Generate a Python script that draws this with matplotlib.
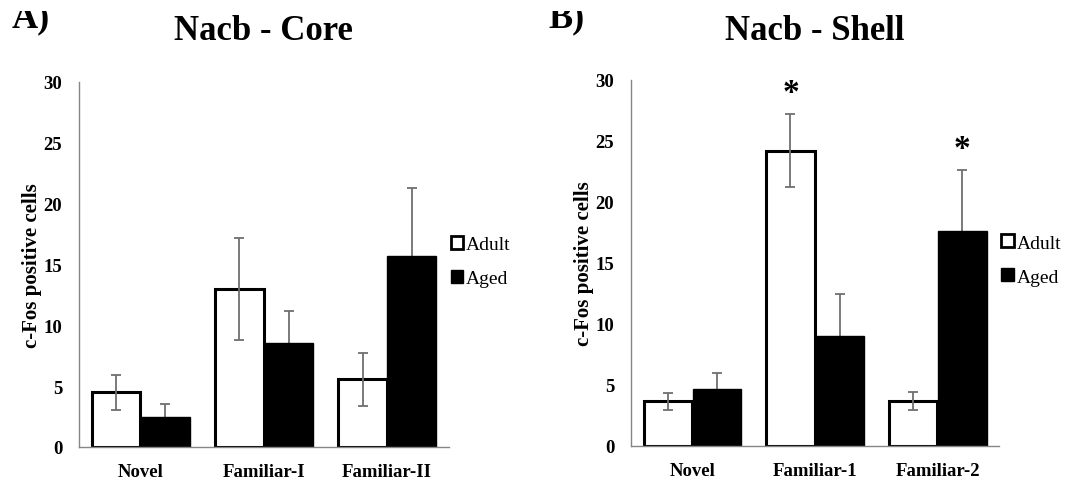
import matplotlib
matplotlib.use("Agg")
import matplotlib.pyplot as plt
import numpy as np
from matplotlib.patches import Patch, Rectangle

plt.rcParams['font.family'] = ['Liberation Serif', 'DejaVu Serif']

groups = ["Adult", "Aged"]

core_labels = ["Novel", "Familiar-I", "Familiar-II"]
core_adult = [4.5, 13.0, 5.55]
core_adult_err = [1.45, 4.2, 2.15]
core_aged = [2.45, 8.55, 15.7]
core_aged_err = [1.1, 2.6, 5.6]

shell_labels = ["Novel", "Familiar-1", "Familiar-2"]
shell_adult = [3.65, 24.2, 3.7]
shell_adult_err = [0.68, 3.0, 0.72]
shell_aged = [4.65, 9.05, 17.6]
shell_aged_err = [1.3, 3.4, 5.0]
# significance marks: (category index, group index)
shell_stars = [(1, 0), (2, 1)]


def draw_panel(ax, title, labels, adult, adult_err, aged, aged_err, stars, title_pad):
    """
    Draws one grouped bar panel in the Excel-like style of the reference.
    """
    x = np.arange(len(labels))
    w = 0.4
    err_kw = dict(fmt='none', ecolor='#6f6f6f', elinewidth=1.3, capsize=3.5, capthick=1.3)
    ax.bar(x - w / 2, adult, w * 0.99, color='white',
           edgecolor='black', linewidth=2.2, zorder=2)
    ax.bar(x + w / 2, aged, w * 0.99, color='black',
           edgecolor='black', linewidth=1.0, zorder=2)
    # adult error bars sit on top of the white bars, aged ones hide behind the black bars
    ax.errorbar(x - w / 2, adult, yerr=adult_err, zorder=3, **err_kw)
    ax.errorbar(x + w / 2, aged, yerr=aged_err, zorder=1, **err_kw)

    for ci, gi in stars:
        top = (adult[ci] + adult_err[ci]) if gi == 0 else (aged[ci] + aged_err[ci])
        xpos = x[ci] - w / 2 if gi == 0 else x[ci] + w / 2
        ax.text(xpos, top + 1.1, "*", ha='center', va='baseline',
                fontsize=24, fontweight='bold')

    ax.set_xlim(-0.5, len(labels) - 0.5)
    ax.set_ylim(0, 30)
    ax.set_yticks(range(0, 31, 5))
    ax.set_xticks(x)
    ax.set_xticklabels(labels)
    ax.tick_params(axis='both', length=0, labelsize=13.5)
    ax.tick_params(axis='y', pad=12)
    ax.tick_params(axis='x', pad=11.5)
    for lbl in ax.get_xticklabels() + ax.get_yticklabels():
        lbl.set_fontweight('bold')
    for side in ['top', 'right']:
        ax.spines[side].set_visible(False)
    for side in ['left', 'bottom']:
        ax.spines[side].set_color('#868686')
        ax.spines[side].set_linewidth(1.0)
    ax.set_ylabel("c-Fos positive cells", fontsize=15, fontweight='bold', labelpad=1)
    ax.set_title(title, fontsize=25, fontweight='bold', pad=title_pad)

    handles = [Patch(facecolor='white', edgecolor='black', linewidth=2.0),
               Patch(facecolor='black', edgecolor='black')]
    ax.legend(handles, groups, loc='center left', bbox_to_anchor=(1.005, 0.508),
              frameon=False, fontsize=14, handlelength=0.65, handleheight=0.65,
              handletextpad=0.15, labelspacing=0.85, borderpad=0, borderaxespad=0)


fig = plt.figure(figsize=(10.91, 4.85), dpi=100)
ax1 = fig.add_axes([0.0724, 0.0763, 0.339, 0.7526])
ax2 = fig.add_axes([0.5784, 0.0784, 0.3373, 0.7546])

draw_panel(ax1, "Nacb - Core", core_labels, core_adult, core_adult_err,
           core_aged, core_aged_err, [], 31)
draw_panel(ax2, "Nacb - Shell", shell_labels, shell_adult, shell_adult_err,
           shell_aged, shell_aged_err, shell_stars, 29.5)

# panel letters, cut off at the top like in the source figure
fig.text(12 / 1091, 1 - 27 / 485, "A)", fontsize=26, fontweight='bold', va='baseline', zorder=1)
fig.text(548 / 1091, 1 - 27 / 485, "B)", fontsize=26, fontweight='bold', va='baseline', zorder=1)
fig.add_artist(Rectangle((0, 1 - 12 / 485), 1, 12 / 485, transform=fig.transFigure,
                         facecolor='white', edgecolor='none', zorder=10))

fig.savefig("out.png", dpi=100)
